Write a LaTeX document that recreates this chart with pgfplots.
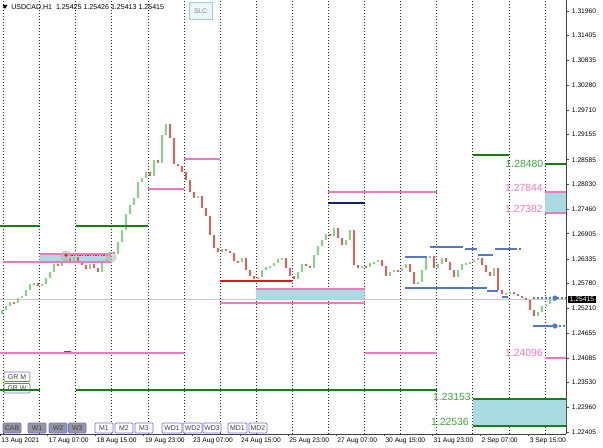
\documentclass[border=0pt]{standalone}
\usepackage{pgfplots}
\usepackage{pgfplotstable}
\pgfplotsset{compat=1.18}
\usepackage{fontspec}
\setmainfont{Liberation Sans}
\definecolor{cgreen}{RGB}{125,218,125}
\definecolor{cred}{RGB}{238,90,90}
\definecolor{lvgreen}{RGB}{20,128,20}
\definecolor{txgreen}{RGB}{60,165,60}
\definecolor{lvpink}{RGB}{240,120,190}
\definecolor{boxblue}{RGB}{170,218,226}
\definecolor{lvnavy}{RGB}{20,30,110}
\definecolor{lvred}{RGB}{230,20,20}
\definecolor{lvblue}{RGB}{85,120,195}
\definecolor{btnborder}{RGB}{110,110,225}
\definecolor{btngray}{RGB}{150,150,162}
\newcommand{\fa}{\fontsize{5}{6}\selectfont}
\newcommand{\fb}{\fontsize{7.8}{9}\selectfont}
\pgfplotstableread{
x o c
2 1.25083 1.25174
6 1.25174 1.25265
10 1.25265 1.25356
14 1.25356 1.25333
18 1.25333 1.25446
22 1.25446 1.25492
26 1.25492 1.25628
30 1.25628 1.25764
34 1.25764 1.25787
38 1.25787 1.25719
42 1.25719 1.25764
46 1.25764 1.25900
50 1.25900 1.26037
54 1.26037 1.26218
58 1.26218 1.26173
62 1.26173 1.26264
66 1.26264 1.26354
70 1.26354 1.26286
74 1.26286 1.26377
78 1.26377 1.26264
82 1.26264 1.26196
86 1.26196 1.26105
90 1.26105 1.26218
94 1.26218 1.26127
98 1.26127 1.26037
102 1.26037 1.26264
106 1.26264 1.26332
110 1.26332 1.26491
114 1.26491 1.26445
118 1.26445 1.26718
122 1.26718 1.26990
126 1.26990 1.27353
130 1.27353 1.27558
134 1.27558 1.27716
138 1.27716 1.28080
142 1.28080 1.28170
146 1.28170 1.28307
150 1.28307 1.28216
154 1.28216 1.28579
158 1.28579 1.28511
162 1.28511 1.29147
166 1.29147 1.29396
170 1.29396 1.29078
174 1.29078 1.28488
178 1.28488 1.28443
182 1.28443 1.28307
186 1.28307 1.28125
190 1.28125 1.27853
194 1.27853 1.27716
198 1.27716 1.27762
202 1.27762 1.27489
206 1.27489 1.27308
210 1.27308 1.26877
214 1.26877 1.26581
218 1.26581 1.26491
222 1.26491 1.26559
226 1.26559 1.26513
230 1.26513 1.26468
234 1.26468 1.26286
238 1.26286 1.26264
242 1.26264 1.26354
246 1.26354 1.26082
250 1.26082 1.25946
254 1.25946 1.25878
258 1.25878 1.25923
262 1.25923 1.26082
266 1.26082 1.26150
270 1.26150 1.26173
274 1.26173 1.26241
278 1.26241 1.26332
282 1.26332 1.26354
286 1.26354 1.26127
290 1.26127 1.25946
294 1.25946 1.25878
298 1.25878 1.26037
302 1.26037 1.26218
306 1.26218 1.26173
310 1.26173 1.26127
314 1.26127 1.26423
318 1.26423 1.26627
322 1.26627 1.26763
326 1.26763 1.26899
330 1.26899 1.26854
334 1.26854 1.27035
338 1.27035 1.26808
342 1.26808 1.26650
346 1.26650 1.26763
350 1.26763 1.26990
354 1.26990 1.26196
358 1.26196 1.26127
362 1.26127 1.26173
366 1.26173 1.26150
370 1.26150 1.26241
374 1.26241 1.26264
378 1.26264 1.26309
382 1.26309 1.26173
386 1.26173 1.25946
390 1.25946 1.26037
394 1.26037 1.26082
398 1.26082 1.26059
402 1.26059 1.26127
406 1.26127 1.26218
410 1.26218 1.26037
414 1.26037 1.25764
418 1.25764 1.25810
422 1.25810 1.26082
426 1.26082 1.26354
430 1.26354 1.26400
434 1.26400 1.26127
438 1.26127 1.26218
442 1.26218 1.26354
446 1.26354 1.26264
450 1.26264 1.26082
454 1.26082 1.25923
458 1.25923 1.26082
462 1.26082 1.26218
466 1.26218 1.26241
470 1.26241 1.26264
474 1.26264 1.26309
478 1.26309 1.26354
482 1.26354 1.26196
486 1.26196 1.26037
490 1.26037 1.25946
494 1.25946 1.26127
498 1.26127 1.25628
502 1.25628 1.25537
506 1.25537 1.25560
510 1.25560 1.25583
514 1.25583 1.25537
518 1.25537 1.25492
522 1.25492 1.25446
526 1.25446 1.25401
530 1.25401 1.25174
534 1.25174 1.25038
538 1.25038 1.25129
542 1.25129 1.25265
546 1.25265 1.25310
550 1.25310 1.25401
554 1.25401 1.25415
}\candles
\newcommand{\btn}[6]{%
  \draw[btnborder, line width=0.5pt, fill=#6, rounded corners=0.8pt] (#1,#2) rectangle (#3,#4);
  \node[inner sep=0pt, text=black!75, font=\fontsize{5.2}{6}\selectfont] at ({(#1+#3)/2},{(#2+#4)/2+0.3}) {#5};}
\begin{document}
\begin{tikzpicture}
\useasboundingbox (0,-9.75pt) rectangle (452.25pt,325.5pt);
\begin{axis}[
  at={(0,0)}, anchor=south west,
  scale only axis, width=424.5pt, height=325.5pt,
  xmin=0, xmax=566, ymin=1.22360, ymax=1.32210,
  axis x line*=bottom, axis y line*=right,
  axis line style={black!75, line width=0.6pt, -},
  tick align=outside, major tick length=2.25pt,
  xtick={3.5,39.6,75.7,111.8,147.9,184.0,220.1,256.2,292.3,328.4,364.5,400.6,436.7,472.8,508.9,545.0},
  xticklabels={},
  xtick style={draw=none},
  xmajorgrids,
  major x grid style={black!85, dash pattern=on 0.75pt off 1.5pt, line width=0.5pt},
  extra x ticks={0,47.5,95.6,143.7,191.8,239.9,288,336.1,384.2,432.3,480.4,528.5},
  extra x tick labels={13 Aug 2021,17 Aug 07:00,18 Aug 15:00,19 Aug 23:00,23 Aug 07:00,24 Aug 15:00,25 Aug 23:00,27 Aug 07:00,30 Aug 15:00,31 Aug 23:00,2 Sep 07:00,3 Sep 15:00},
  extra x tick style={grid=none, xtick style={draw=black!70, line width=0.4pt}, major tick length=1.5pt},
  xticklabel style={font=\fa, anchor=north west, inner sep=0pt, xshift=0.8pt, yshift=-1.2pt},
  ytick={1.31960,1.31405,1.30835,1.30280,1.29710,1.29155,1.28585,1.28030,1.27460,1.26905,1.26335,1.25780,1.25210,1.24655,1.24085,1.23530,1.22960,1.22405},
  yticklabels={1.31960,1.31405,1.30835,1.30280,1.29710,1.29155,1.28585,1.28030,1.27460,1.26905,1.26335,1.25780,1.25210,1.24655,1.24085,1.23530,1.22960,1.22405},
  ytick style={draw=black!70, line width=0.4pt},
  yticklabel style={font=\fa, anchor=west, inner sep=0pt, xshift=2pt},
]
% boxes
\addplot[fill=boxblue, draw=none] coordinates {(39.6,1.26438) (110,1.26438) (110,1.26257) (39.6,1.26257) (39.6,1.26438)};
\addplot[fill=boxblue, draw=none] coordinates {(256.2,1.25651) (364.5,1.25651) (364.5,1.25401) (256.2,1.25401) (256.2,1.25651)};
\addplot[fill=boxblue, draw=none] coordinates {(545,1.27844) (566,1.27844) (566,1.27382) (545,1.27382) (545,1.27844)};
\addplot[fill=boxblue, draw=none] coordinates {(472.8,1.23153) (566,1.23153) (566,1.22536) (472.8,1.22536) (472.8,1.23153)};
% current price line
\addplot[black!22, line width=0.5pt] coordinates {(0,1.25415) (566,1.25415)};
% candles
\addplot[draw=none, mark=none, restrict expr to domain={\thisrow{c}-\thisrow{o}}{0:1},
  error bars/.cd, y dir=both, y explicit, error mark=none,
  error bar style={draw=cgreen, line width=2pt}]
  table[x=x, y expr={(\thisrow{o}+\thisrow{c})/2}, y error expr={abs(\thisrow{c}-\thisrow{o})/2}] {\candles};
\addplot[draw=none, mark=none, restrict expr to domain={\thisrow{c}-\thisrow{o}}{-1:0},
  error bars/.cd, y dir=both, y explicit, error mark=none,
  error bar style={draw=cred, line width=2pt}]
  table[x=x, y expr={(\thisrow{o}+\thisrow{c})/2}, y error expr={abs(\thisrow{c}-\thisrow{o})/2}] {\candles};
% green levels
\addplot[lvgreen, line width=1.5pt] coordinates {(0,1.27080) (39.6,1.27080)};
\addplot[lvgreen, line width=1.5pt] coordinates {(75.7,1.27080) (147.9,1.27080)};
\addplot[lvgreen, line width=1.5pt] coordinates {(472.8,1.28693) (508.9,1.28693)};
\addplot[lvgreen, line width=1.5pt] coordinates {(545,1.28480) (566,1.28480)};
\addplot[lvgreen, line width=1.5pt] coordinates {(75.7,1.23369) (436.7,1.23369)};
\addplot[lvgreen, line width=1.5pt] coordinates {(472.8,1.23153) (566,1.23153)};
\addplot[lvgreen, line width=1.5pt] coordinates {(472.8,1.22536) (566,1.22536)};
% pink levels
\addplot[lvpink, line width=1.5pt] coordinates {(3,1.26257) (112,1.26257)};
\addplot[lvpink, line width=1.5pt] coordinates {(39.6,1.26438) (110,1.26438)};
\addplot[lvpink, line width=1.5pt] coordinates {(147.9,1.27921) (184,1.27921)};
\addplot[lvpink, line width=1.5pt] coordinates {(184,1.28602) (220.1,1.28602)};
\addplot[lvpink, line width=1.5pt] coordinates {(220.1,1.25322) (364.5,1.25322)};
\addplot[lvpink, line width=1.5pt] coordinates {(256.2,1.25651) (364.5,1.25651)};
\addplot[lvpink, line width=1.5pt] coordinates {(328.4,1.27852) (436.7,1.27852)};
\addplot[lvpink, line width=1.5pt] coordinates {(545,1.27844) (566,1.27844)};
\addplot[lvpink, line width=1.5pt] coordinates {(545,1.27382) (566,1.27382)};
\addplot[lvpink, line width=1.5pt] coordinates {(545,1.24096) (566,1.24096)};
\addplot[lvpink, line width=1.5pt] coordinates {(0,1.24209) (184,1.24209)};
\addplot[lvpink, line width=1.5pt] coordinates {(364.5,1.24209) (436.7,1.24209)};
\addplot[black!30!btnborder, line width=1pt] coordinates {(64,1.24232) (71,1.24232)};
% red / navy
\addplot[lvred, line width=1.5pt] coordinates {(220.1,1.25832) (292.3,1.25832)};
\addplot[lvnavy, line width=1.5pt] coordinates {(328.4,1.27603) (364.5,1.27603)};
% blue levels
\addplot[lvblue, line width=1.2pt] coordinates {(405,1.26377) (427,1.26377)};
\addplot[lvblue, line width=1.2pt] coordinates {(430,1.26604) (463,1.26604)};
\addplot[lvblue, line width=1.2pt] coordinates {(465,1.26559) (477,1.26559)};
\addplot[lvblue, line width=1.2pt] coordinates {(478,1.26423) (493,1.26423)};
\addplot[lvblue, line width=1.2pt] coordinates {(495,1.26559) (515,1.26559)};
\addplot[lvblue, line width=1.2pt, dash pattern=on 1.5pt off 1.5pt] coordinates {(515,1.26559) (522,1.26559)};
\addplot[lvblue, line width=1.6pt] coordinates {(405,1.25673) (487,1.25673)};
\addplot[lvblue, line width=1.4pt] coordinates {(487,1.25605) (498,1.25605)};
\addplot[lvblue, line width=1.2pt] coordinates {(502,1.25469) (508,1.25469)};
\addplot[lvblue, line width=0.9pt, dash pattern=on 1.5pt off 1.5pt] coordinates {(533,1.25446) (566,1.25446)};
\addplot[lvblue, line width=1.4pt] coordinates {(533,1.24811) (555,1.24811)};
\addplot[lvblue, line width=0.9pt, dash pattern=on 1.5pt off 1.5pt] coordinates {(555,1.24811) (566,1.24811)};
\addplot[only marks, mark=*, mark size=1.7pt, lvblue] coordinates {(555,1.25446) (555,1.24811)};
% circles and red dotted
\addplot[only marks, mark=*, mark size=3.9pt, mark options={fill=gray!55, draw=gray!65, fill opacity=0.55, draw opacity=0.6}] coordinates {(66,1.26400) (111,1.26377)};
\addplot[lvred, line width=0.6pt, dash pattern=on 1pt off 1pt] coordinates {(66,1.26420) (110,1.26420)};
\addplot[only marks, mark=*, mark size=1pt, lvred] coordinates {(66,1.26420)};
\end{axis}
\begin{scope}[x=0.75pt, y=-0.75pt, yshift=325.5pt]
% top-left info
\fill[black] (2.5,5) -- (7.5,5) -- (5,9) -- cycle;
\node[anchor=west, inner sep=0pt, font=\fontsize{5.3}{6}\selectfont] at (11,7) {USDCAD,H1\ \ 1.25425 1.25426 1.25413 1.25415};
% SLC button
\draw[fill={rgb,255:red,236;green,246;blue,250}, draw={rgb,255:red,150;green,210;blue,232}, line width=0.6pt] (189,2) rectangle (212,19);
\node[inner sep=0pt, text={rgb,255:red,120;green,130;blue,150}, font=\fontsize{5}{6}\selectfont] at (200.5,11) {SLC};
% level labels
\node[anchor=base east, inner sep=0pt, text=txgreen, font=\fb] at (543.5,168) {1.28480};
\node[anchor=base east, inner sep=0pt, text=lvpink, font=\fb] at (543,191.5) {1.27844};
\node[anchor=base east, inner sep=0pt, text=lvpink, font=\fb] at (543,212) {1.27382};
\node[anchor=base east, inner sep=0pt, text=lvpink, font=\fb] at (543,356.5) {1.24096};
\node[anchor=base east, inner sep=0pt, text=txgreen, font=\fb] at (471,400) {1.23153};
\node[anchor=base east, inner sep=0pt, text=txgreen, font=\fb] at (469,425.5) {1.22536};
% price box
\node[anchor=west, fill=black, text=white, inner xsep=1.6pt, inner ysep=1pt, font=\fa] at (567.5,299.5) {1.25415};
% buttons
\btn{4}{372}{30}{381.5}{GR M}{white}
\btn{4}{383.5}{30}{393}{GR W}{white}
\draw[lvgreen, line width=1.5pt] (0,389.5) -- (39.6,389.5);
\btn{3}{423}{21}{433}{CAB}{btngray}
\btn{28}{423}{46}{433}{W1}{btngray}
\btn{49}{423}{67}{433}{W2}{btngray}
\btn{68.5}{423}{86}{433}{W3}{btngray}
\btn{95}{423}{113}{433}{M1}{white}
\btn{115}{423}{133}{433}{M2}{white}
\btn{135}{423}{153}{433}{M3}{white}
\btn{162}{423}{182}{433}{WD1}{white}
\btn{183}{423}{202}{433}{WD2}{white}
\btn{203}{423}{221}{433}{WD3}{white}
\btn{228}{423}{247}{433}{MD1}{white}
\btn{249}{423}{267}{433}{MD2}{white}
\end{scope}
\end{tikzpicture}
\end{document}
